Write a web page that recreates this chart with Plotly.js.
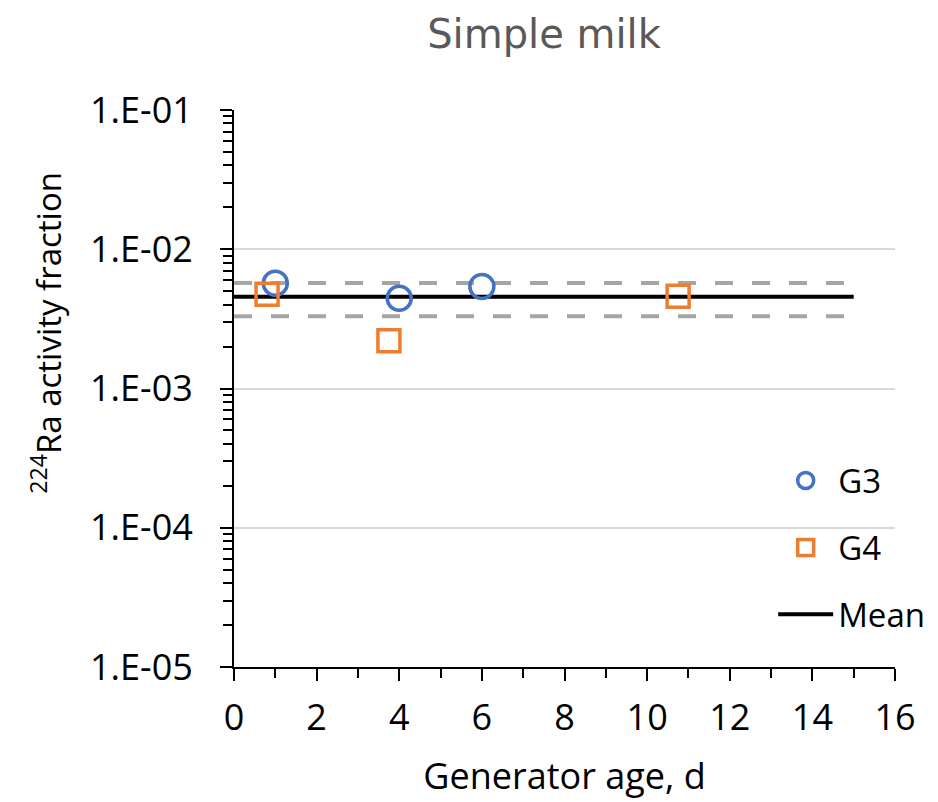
<!DOCTYPE html>
<html>
<head>
<meta charset="utf-8">
<script src="https://cdn.plot.ly/plotly-3.0.1.min.js"></script>
<style>html,body{margin:0;padding:0;background:#fff;}#chart{width:938px;height:802px;}</style>
</head>
<body>
<div id="chart"></div>
<script>
// Data
const g3Age = [1, 4, 6];
const g3Frac = [5.7e-3, 4.45e-3, 5.4e-3];
const g4Age = [0.8, 3.75, 10.75];
const g4Frac = [4.75e-3, 2.2e-3, 4.6e-3];
const meanAge = [0, 15];
const meanFrac = [4.55e-3, 4.55e-3];
const upperFrac = [5.73e-3, 5.73e-3];
const lowerFrac = [3.3e-3, 3.3e-3];
const yTickVals = [1e-5, 1e-4, 1e-3, 1e-2, 1e-1];
const yTickText = ['1.E-05', '1.E-04', '1.E-03', '1.E-02', '1.E-01'];

const minorVals = [];
for (let e = -5; e < -1; e++) {
  for (let m = 2; m <= 9; m++) minorVals.push(m * Math.pow(10, e));
}

const font = '"Open Sans", Lato, sans-serif';

const traces = [
  {x: meanAge, y: upperFrac, mode: 'lines', showlegend: false, hoverinfo: 'skip',
   line: {color: '#A5A5A5', width: 4, dash: '18px,19px'}},
  {x: meanAge, y: lowerFrac, mode: 'lines', showlegend: false, hoverinfo: 'skip',
   line: {color: '#A5A5A5', width: 4, dash: '18px,19px'}},
  {x: meanAge, y: meanFrac, mode: 'lines', name: 'Mean', legendgroup: 'c', legendrank: 3,
   line: {color: '#000000', width: 4}},
  {x: g3Age, y: g3Frac, mode: 'markers', name: 'G3', legendgroup: 'a', legendrank: 1,
   marker: {symbol: 'circle-open', size: 24, color: '#4472C4', line: {width: 3.5, color: '#4472C4'}}},
  {x: g4Age, y: g4Frac, mode: 'markers', name: 'G4', legendgroup: 'b', legendrank: 2,
   marker: {symbol: 'square-open', size: 22, color: '#ED7D31', line: {width: 3.5, color: '#ED7D31'}}}
];

const layout = {
  width: 938, height: 802,
  margin: {l: 234, r: 43, t: 110, b: 135, autoexpand: false},
  paper_bgcolor: '#fff', plot_bgcolor: '#fff',
  font: {family: font, size: 36, color: '#000'},
  title: {text: 'Simple milk', font: {family: '"DejaVu Sans", "Liberation Sans", sans-serif', size: 40, color: '#595959'},
          x: 0.469, xref: 'paper', xanchor: 'center', y: 0.958, yanchor: 'middle'},
  showlegend: true,
  legend: {x: 0.8157, xanchor: 'left', y: 0.385, yanchor: 'top', bgcolor: 'rgba(0,0,0,0)',
           traceorder: 'grouped', tracegroupgap: 21, itemwidth: 55,
           font: {family: font, size: 33, color: '#000'}},
  xaxis: {
    range: [0, 16], tickmode: 'linear', tick0: 0, dtick: 2,
    ticks: 'outside', ticklen: 12, tickwidth: 2, tickcolor: '#000',
    minor: {dtick: 1, tick0: 0, ticks: 'outside', ticklen: 9, tickwidth: 2, tickcolor: '#000', showgrid: false},
    showline: true, linecolor: '#000', linewidth: 2, showgrid: false, zeroline: false,
    ticklabelstandoff: 6,
    tickfont: {family: font, size: 36, color: '#000'},
    title: {text: 'Generator age, d', font: {family: font, size: 36, color: '#000'}, standoff: 24}
  },
  yaxis: {
    type: 'log', range: [-5, -1],
    tickmode: 'array', tickvals: yTickVals, ticktext: yTickText,
    ticks: 'outside', ticklen: 12, tickwidth: 2, tickcolor: '#000',
    minor: {tickmode: 'array', tickvals: minorVals, ticks: 'outside', ticklen: 9, tickwidth: 2, tickcolor: '#000', showgrid: false},
    showline: true, linecolor: '#000', linewidth: 2,
    showgrid: true, gridcolor: '#D9D9D9', gridwidth: 2, zeroline: false,
    ticklabelstandoff: 20,
    tickfont: {family: font, size: 36, color: '#000'}
  },
  annotations: [{
    text: '<sup>224</sup>Ra activity fraction', textangle: -90, showarrow: false,
    xref: 'paper', yref: 'paper', x: -0.283, xanchor: 'center', y: 0.6, yanchor: 'middle',
    font: {family: font, size: 33, color: '#000'}
  }]
};

Plotly.newPlot('chart', traces, layout, {displayModeBar: false, staticPlot: true});
</script>
</body>
</html>
